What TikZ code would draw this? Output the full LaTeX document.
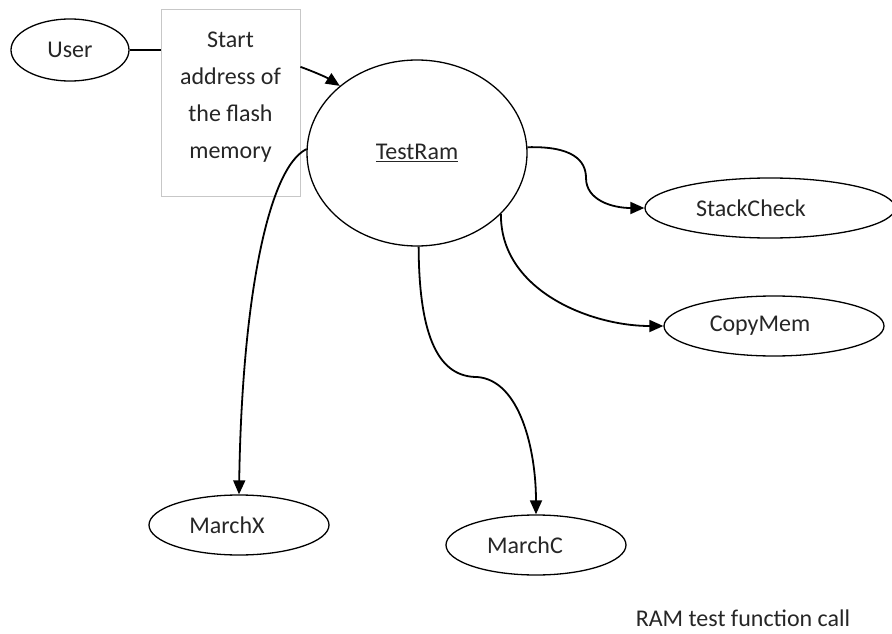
\documentclass[tikz,border=0pt]{standalone}
\usepackage{fontspec}
\setmainfont{Carlito}
\usetikzlibrary{shapes.geometric,arrows.meta}

\begin{document}
\begin{tikzpicture}[x=1pt,y=-1pt,
  font=\fontsize{24}{37}\selectfont,
  oval/.style={ellipse,draw=black,line width=1.3pt,inner sep=0pt,text=black!85},
  txt/.style={text=black!85,inner sep=0pt},
  call/.style={line width=1.8pt,-{Triangle[length=14pt,width=12pt]}},
  link/.style={line width=1.8pt}]
\useasboundingbox (0,0) rectangle (892,634);

% actors and functions
\node[oval,minimum width=118,minimum height=62] (User) at (70,50) {User};
\node[draw=black!22,line width=0.9pt,minimum width=139,minimum height=187,inner sep=0pt,
      label={[txt,align=center,yshift=5pt]center:Start\\address of\\the flash\\memory}] (param) at (230.5,102.5) {};
\node[oval,minimum width=220,minimum height=186] (TestRam) at (417,153) {\underline{TestRam}};
\node[oval,minimum width=250,minimum height=60,
      label={[txt,xshift=-19pt]center:StackCheck}] (StackCheck) at (770,208) {};
\node[oval,minimum width=220,minimum height=60,
      label={[txt,xshift=-14pt]center:CopyMem}] (CopyMem) at (774,326) {};
\node[oval,minimum width=180,minimum height=60,
      label={[txt,xshift=-12pt]center:MarchX}] (MarchX) at (239,525) {};
\node[oval,minimum width=180,minimum height=60,
      label={[txt,xshift=-11pt]center:MarchC}] (MarchC) at (536,545) {};
\node[txt,anchor=center] (caption) at (743,618) {RAM test function call};

% connectors
\draw[link] (User.east) -- (User.east -| param.west);
\draw[call] (param.27) .. controls (312,71) and (326,77) .. (TestRam.139);
\draw[call] (TestRam.3) .. controls (572,146) and (586,160) .. (586,178)
            .. controls (586,200) and (612,208) .. (StackCheck.west);
\draw[call] (TestRam.-36) .. controls (500,290) and (590,326) .. (CopyMem.west);
\draw[call] (TestRam.178) .. controls (268,168) and (242,300) .. (MarchX.north);
\draw[call] (TestRam.-89) .. controls (419,340) and (440,377) .. (477,377)
            .. controls (520,380) and (536,450) .. (MarchC.north);
\end{tikzpicture}
\end{document}
